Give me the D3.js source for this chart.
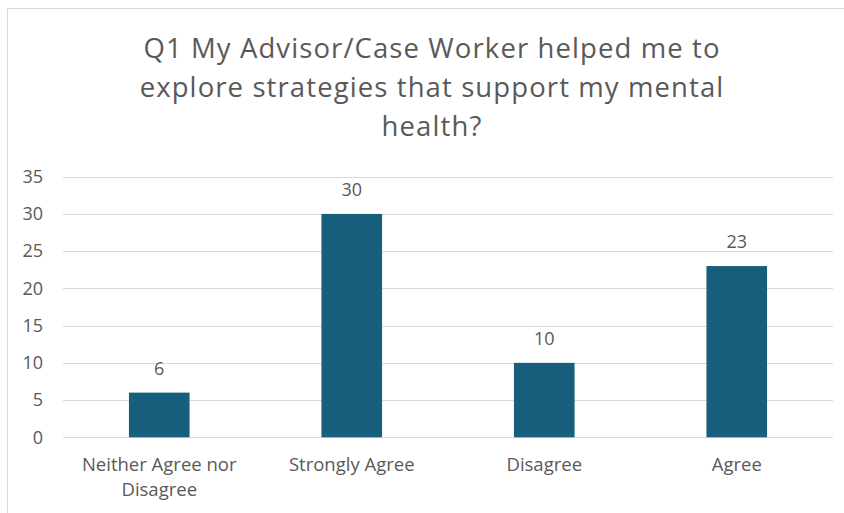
<!DOCTYPE html>
<html>
<head>
<meta charset="utf-8">
<script src="https://cdn.jsdelivr.net/npm/d3@7"></script>
<style>
  html, body { margin: 0; padding: 0; background: #fff; }
  svg { display: block; }
  text { font-family: "Open Sans", "Noto Sans", sans-serif; fill: #595959; }
</style>
</head>
<body>
<svg id="chart" width="844" height="513"></svg>
<script>
const titleLines = [
  "Q1 My Advisor/Case Worker helped me to",
  "explore strategies that support my mental",
  "health?"
];
const categories = [["Neither Agree nor", "Disagree"], ["Strongly Agree"], ["Disagree"], ["Agree"]];
const values = [6, 30, 10, 23];
const yTicks = [0, 5, 10, 15, 20, 25, 30, 35];

const svg = d3.select("#chart");
const W = 844, H = 513;
const margin = { left: 63, right: 11, top: 176.7, bottom: 75.7 };

// chart frame
svg.append("rect")
  .attr("x", 7.5).attr("y", 8.5)
  .attr("width", W + 10).attr("height", H + 10)
  .attr("fill", "none").attr("stroke", "#d9d9d9").attr("stroke-width", 1);

// title
const title = svg.append("text")
  .attr("text-anchor", "middle")
  .attr("font-size", 27.5)
  .attr("letter-spacing", 1.1);
titleLines.forEach((l, i) => {
  title.append("tspan").attr("x", 432).attr("y", 58 + i * 39).text(l);
});

const x = d3.scaleBand()
  .domain(categories.map((c, i) => i))
  .range([margin.left, W - margin.right])
  .paddingInner(0.685).paddingOuter(0.3425);

const y = d3.scaleLinear()
  .domain([0, 35])
  .range([H - margin.bottom, margin.top]);

// gridlines
svg.append("g")
  .selectAll("line")
  .data(yTicks)
  .join("line")
  .attr("x1", margin.left).attr("x2", W - margin.right)
  .attr("y1", d => Math.round(y(d)) + 0.5).attr("y2", d => Math.round(y(d)) + 0.5)
  .attr("stroke", "#d9d9d9").attr("stroke-width", 1);

// y axis labels
const yAxis = d3.axisLeft(y).tickValues(yTicks).tickSize(0).tickPadding(0);
const gy = svg.append("g").attr("transform", `translate(${margin.left - 20},0)`).call(yAxis);
gy.select(".domain").remove();
gy.selectAll("text").attr("font-size", 18).attr("fill", "#595959")
  .attr("font-family", '"Open Sans", "Noto Sans", sans-serif');

// bars
svg.append("g")
  .selectAll("rect")
  .data(values)
  .join("rect")
  .attr("x", (d, i) => x(i))
  .attr("width", x.bandwidth())
  .attr("y", d => y(d))
  .attr("height", d => y(0) - y(d))
  .attr("fill", "#185f7e");

// value labels
svg.append("g")
  .selectAll("text")
  .data(values)
  .join("text")
  .attr("x", (d, i) => x(i) + x.bandwidth() / 2)
  .attr("y", d => y(d) - 18)
  .attr("text-anchor", "middle")
  .attr("font-size", 18)
  .text(d => d);

// category labels
const cat = svg.append("g")
  .selectAll("text")
  .data(categories)
  .join("text")
  .attr("text-anchor", "middle")
  .attr("font-size", 18.5);
cat.each(function(lines, i) {
  const t = d3.select(this);
  lines.forEach((l, k) => {
    t.append("tspan")
      .attr("x", x(i) + x.bandwidth() / 2)
      .attr("y", 471 + k * 25)
      .text(l);
  });
});
</script>
</body>
</html>
